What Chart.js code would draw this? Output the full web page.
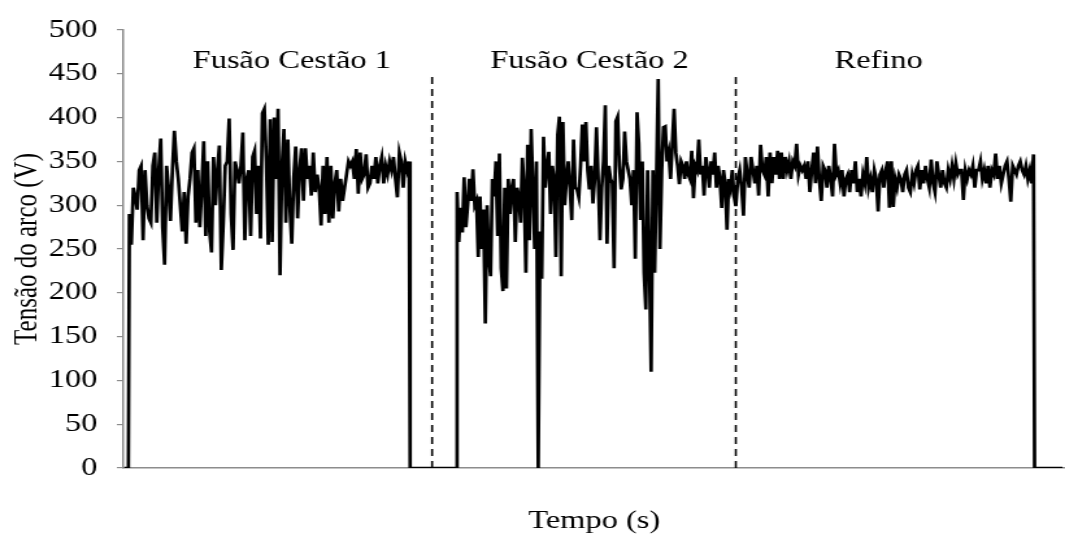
<!DOCTYPE html>
<html lang="pt">
<head>
<meta charset="utf-8">
<title>Tensão do arco</title>
<script src="https://cdn.jsdelivr.net/npm/chart.js@4.4.1/dist/chart.umd.min.js"></script>
<style>
  html, body { margin: 0; padding: 0; background: #fff; }
</style>
</head>
<body>
<!-- the source figure is stretched sideways, so draw narrower and let CSS widen it -->
<canvas id="grafico" width="820" height="536" style="display:block;width:1065px;height:536px"></canvas>
<script>
// Phases and their time spans (s)
const fases = ['Fusão Cestão 1', 'Fusão Cestão 2', 'Refino'];
const fusao1Tempo = [24, 1144];
const fusao2Tempo = [1336, 2452];
const refinoTempo = [2460, 3644];
const separadores = [1236, 2452];
// periods with the arc off (voltage 0)
const desligado = [[4, 20], [1148, 1332], [3648, 3760]];
const yTicks = [0, 50, 100, 150, 200, 250, 300, 350, 400, 450, 500];

// Arc voltage (V)
const fusao1 = [
    290, 255, 320, 310, 295, 340, 345, 260, 340, 300,
    285, 280, 345, 360, 280, 340, 376, 275, 232, 345,
    320, 282, 340, 385, 350, 330, 300, 270, 315, 256,
    310, 330, 360, 365, 280, 340, 275, 320, 373, 265,
    350, 270, 246, 355, 300, 340, 368, 226, 280, 345,
    350, 399, 290, 249, 350, 340, 325, 345, 383, 260,
    330, 340, 265, 355, 362, 290, 345, 262, 405, 410,
    350,
    255, 398, 258, 400, 330, 410, 220, 345, 387, 280,
    375, 300, 256, 330, 367, 285, 340, 365, 305, 365,
    330, 345, 311, 360, 315, 335, 320, 277, 345, 290,
    355, 280, 345, 285, 325, 340, 293, 330, 305, 320,
    335, 350, 345, 350, 330, 364, 313, 360, 330, 335,
    358, 320, 325, 345, 330, 355, 325, 345, 355, 325,
    345, 335, 350, 340, 355, 330, 309, 360, 350, 320,
    350, 340, 350
];

const fusao2 = [
    315, 258, 297, 269, 332, 275, 300, 330, 305, 341,
    300, 305, 241, 310, 250, 295, 165, 300, 240, 219,
    330, 310, 350, 265, 359, 228, 202, 320, 205, 330,
    290, 320, 330, 258, 320, 310, 280, 354, 320, 223,
    369, 260, 387, 320, 250, 350, 0, 270, 216, 378,
    320, 345, 361, 290, 345, 330, 241, 380, 401, 219,
    395, 300, 330, 350, 320, 283, 375, 320, 318, 309,
    345, 392, 350, 395, 340, 318, 345, 302, 330, 389,
    330, 260, 320, 350, 414, 256, 345, 330, 325, 228,
    396, 401, 345, 318, 330, 384, 350, 340, 330, 300,
    340, 239, 406, 370, 283, 350, 223, 181, 340, 240,
    110, 340, 223, 330, 444, 250, 340, 389, 390, 350,
    360, 330, 370, 410, 360, 345, 324, 350, 345, 330,
    350, 335, 330, 362, 308, 345, 340, 375, 335, 345,
    311, 355, 340, 320, 350, 335, 360, 320, 345, 330,
    297, 340, 325, 272, 330, 320, 340, 310, 299
];

const refino = [
    330, 340, 320, 288, 355, 335, 320, 355, 340, 325,
    345, 311, 369, 340, 335, 355, 310, 360, 325, 355,
    335, 362, 330, 360, 330, 355, 340, 350, 330, 350,
    345, 370, 335, 345, 340, 345, 330, 350, 315, 340,
    360, 325, 367, 330, 305, 345, 340, 320, 345, 330,
    310, 370, 335, 340, 325, 340, 310, 330, 335, 315,
    340, 325, 350, 315, 330, 310, 335, 325, 355, 320,
    330, 315, 340, 330, 293, 335, 340, 320, 340, 350,
    297, 350, 298, 330, 320, 335, 330, 315, 335, 340,
    320, 315, 335, 325, 340, 345, 318, 340, 325, 345,
    330, 320, 352, 325, 315, 350, 335, 320, 340, 325,
    320, 340, 330, 345, 330, 348, 335, 340, 340, 306,
    340, 330, 340, 335, 345, 320, 340, 340, 350, 330,
    340, 325, 345, 320, 340, 335, 359, 330, 345, 325,
    335, 345, 350, 330, 304, 345, 340, 335, 345, 350,
    340, 335, 345, 330, 340, 325, 358
];

const fonte = { family: '"Liberation Serif", "Times New Roman", serif', size: 25 };
const cinza = '#8c8c8c';

// spread a phase's samples evenly over its time span
function serie(valores, [inicio, fim]) {
    const passo = (fim - inicio) / (valores.length - 1);
    return valores.map((v, i) => ({ x: inicio + i * passo, y: v }));
}

function zeros([inicio, fim]) {
    return [{ x: inicio, y: 0 }, { x: fim, y: 0 }];
}

const pontos = [
    ...zeros(desligado[0]),
    ...serie(fusao1, fusao1Tempo),
    ...zeros(desligado[1]),
    ...serie(fusao2, fusao2Tempo),
    ...serie(refino, refinoTempo),
    ...zeros(desligado[2])
];

const linhasFases = separadores.map(t => ({
    data: [{ x: t, y: 0 }, { x: t, y: 450 }],
    borderColor: '#000',
    borderWidth: 1.6,
    borderDash: [7, 5],
    pointRadius: 0
}));

// phase names above the trace
const rotulosFases = {
    id: 'rotulosFases',
    afterDatasetsDraw(chart) {
        const { ctx, scales: { x, y } } = chart;
        const centros = [674, 1866, 3024];
        ctx.save();
        ctx.font = `${fonte.size}px ${fonte.family}`;
        ctx.fillStyle = '#000';
        ctx.textAlign = 'center';
        ctx.textBaseline = 'middle';
        fases.forEach((nome, i) => {
            ctx.fillText(nome, x.getPixelForValue(centros[i]), y.getPixelForValue(464));
        });
        ctx.restore();
    }
};

new Chart(document.getElementById('grafico'), {
    type: 'line',
    data: {
        datasets: [
            {
                data: pontos,
                borderColor: '#000',
                borderWidth: 2.7,
                pointRadius: 0,
                tension: 0
            },
            ...linhasFases
        ]
    },
    options: {
        responsive: false,
        devicePixelRatio: 1,
        animation: false,
        layout: { padding: { top: 30, right: 0, bottom: 0, left: 0 } },
        plugins: {
            legend: { display: false },
            tooltip: { enabled: false }
        },
        scales: {
            x: {
                type: 'linear',
                min: 0,
                max: 3770,
                grid: { display: false },
                ticks: { display: false },
                border: { color: cinza, width: 1.5 },
                title: {
                    display: true,
                    text: 'Tempo (s)',
                    color: '#000',
                    font: fonte,
                    padding: { top: 0, bottom: 0 }
                },
                afterFit(scale) { scale.height = 68; }
            },
            y: {
                min: 0,
                max: 500,
                afterBuildTicks(scale) { scale.ticks = yTicks.map(v => ({ value: v })); },
                ticks: { color: '#000', font: fonte, padding: 15 },
                grid: { drawOnChartArea: false, tickLength: 5, color: cinza, lineWidth: 1.2 },
                border: { color: cinza, width: 1.5 },
                title: {
                    display: true,
                    text: 'Tensão do arco (V)',
                    color: '#000',
                    font: fonte,
                    padding: { top: 6, bottom: 0 }
                },
                afterFit(scale) { scale.width = 95; }
            }
        }
    },
    plugins: [rotulosFases]
});
</script>
</body>
</html>
